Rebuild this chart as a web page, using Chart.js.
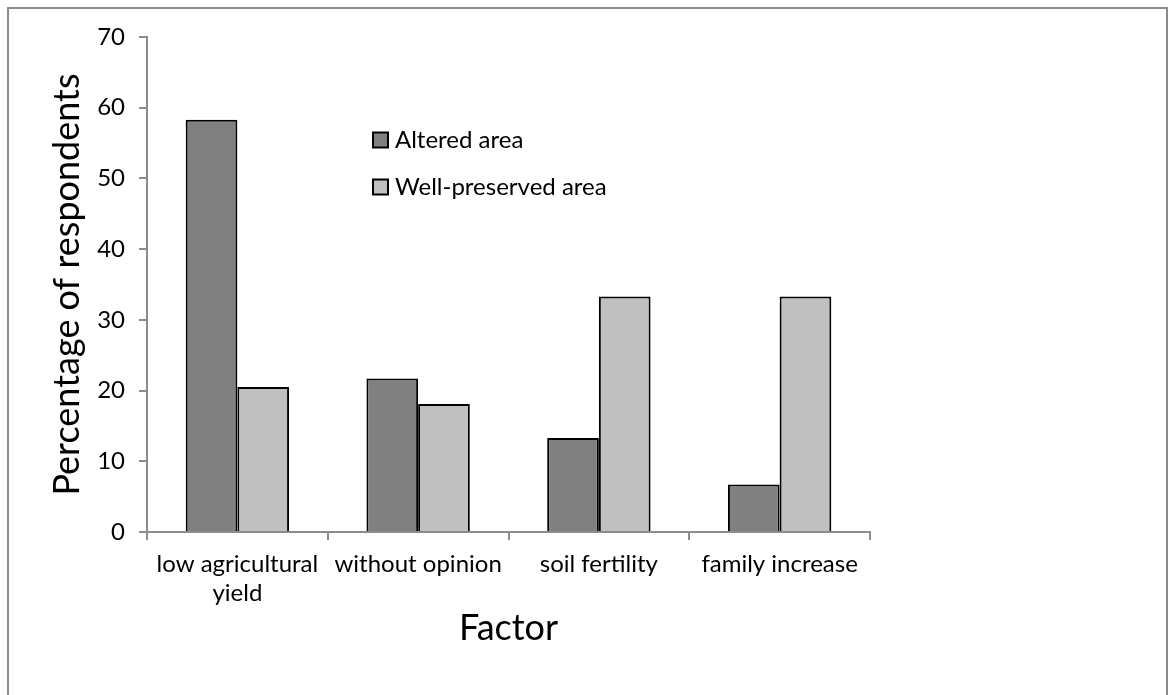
<!DOCTYPE html>
<html>
<head>
<meta charset="utf-8">
<script src="https://cdn.jsdelivr.net/npm/chart.js@4.4.1/dist/chart.umd.min.js"></script>
<style>
    html, body { margin: 0; padding: 0; background: #fff; }
    #wrap { position: relative; width: 1175px; height: 695px; }
    #frame {
        position: absolute; left: 7px; top: 7px; width: 1157px; height: 700px;
        border-left: 2px solid #8c8c8c; border-top: 2px solid #8c8c8c; border-right: 2px solid #8c8c8c;
    }
    canvas { position: absolute; left: 0; top: 0; }
</style>
</head>
<body>
<div id="wrap">
    <div id="frame"></div>
    <canvas id="chart" width="1175" height="695"></canvas>
</div>
<script>
// Dados do gráfico
const categories = [['low agricultural', 'yield'], 'without opinion', 'soil fertility', 'family increase'];
const seriesNames = ['Altered area', 'Well-preserved area'];
const alteredArea = [58.3, 21.7, 13.3, 6.7];
const wellPreserved = [20.5, 18.1, 33.3, 33.3];
const yTickValues = [0, 10, 20, 30, 40, 50, 60, 70];

const FONT = "Lato, 'Open Sans', sans-serif";
const AXIS_GREY = '#8c8c8c';

// Legenda desenhada à mão (vertical, dentro da área do gráfico)
const legendPlugin = {
    id: 'boxLegend',
    afterDatasetsDraw(chart) {
        const ctx = chart.ctx;
        const x = 373, ys = [140, 187], box = 15;
        ctx.save();
        ctx.font = `24px ${FONT}`;
        ctx.textBaseline = 'middle';
        chart.data.datasets.forEach((ds, i) => {
            const y = ys[i];
            ctx.fillStyle = ds.backgroundColor;
            ctx.fillRect(x, y - box / 2, box, box);
            ctx.lineWidth = 2;
            ctx.strokeStyle = '#000';
            ctx.strokeRect(x, y - box / 2, box, box);
            ctx.fillStyle = '#000';
            ctx.fillText(ds.label, x + 22, y);
        });
        ctx.restore();
    }
};

new Chart(document.getElementById('chart'), {
    type: 'bar',
    data: {
        labels: categories,
        datasets: [
            { label: seriesNames[0], data: alteredArea, backgroundColor: '#808080', borderColor: '#000', borderWidth: 2 },
            { label: seriesNames[1], data: wellPreserved, backgroundColor: '#c0c0c0', borderColor: '#000', borderWidth: 2 }
        ]
    },
    options: {
        responsive: false,
        devicePixelRatio: 1,
        animation: false,
        layout: { padding: { left: 0, top: 37, right: 305, bottom: 0 } },
        datasets: { bar: { categoryPercentage: 0.572, barPercentage: 1 } },
        plugins: { legend: { display: false }, tooltip: { enabled: false } },
        scales: {
            x: {
                offset: true,
                afterFit: s => { s.height = 695 - 532; },
                grid: { offset: true, drawOnChartArea: false, tickLength: 8, color: AXIS_GREY, lineWidth: 2 },
                border: { color: AXIS_GREY, width: 2 },
                ticks: { color: '#000', font: { family: FONT, size: 24 }, padding: 10, maxRotation: 0, autoSkip: false },
                title: { display: true, text: 'Factor', color: '#000', font: { family: FONT, size: 36 }, padding: { bottom: 45 } }
            },
            y: {
                min: 0,
                max: 70,
                afterFit: s => { s.width = 147; },
                afterBuildTicks: s => { s.ticks = yTickValues.map(v => ({ value: v })); },
                grid: { drawOnChartArea: false, tickLength: 8, color: AXIS_GREY, lineWidth: 2 },
                border: { color: AXIS_GREY, width: 2 },
                ticks: { color: '#000', font: { family: FONT, size: 24 }, padding: 14 },
                title: { display: true, text: 'Percentage of respondents', color: '#000', font: { family: FONT, size: 36 }, padding: { top: 46 } }
            }
        }
    },
    plugins: [legendPlugin]
});
</script>
</body>
</html>
